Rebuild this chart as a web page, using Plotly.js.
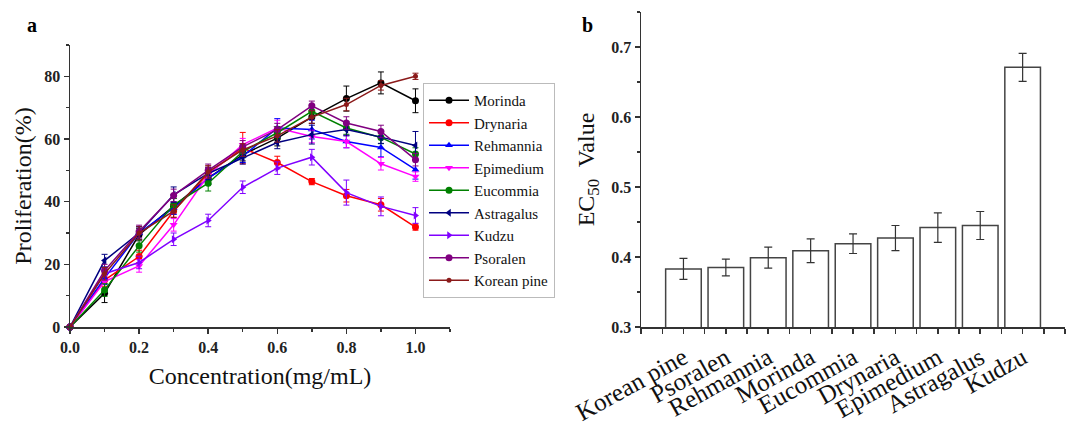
<!DOCTYPE html>
<html>
<head>
<meta charset="utf-8">
<script src="https://cdn.plot.ly/plotly-3.0.1.min.js"></script>
<style>html,body{margin:0;padding:0;background:#fff}#chart{width:1072px;height:439px}</style>
</head>
<body>
<div id="chart"></div>
<script>
// ---- Panel a data ----
const concentration = [0, 0.1, 0.2, 0.3, 0.4, 0.5, 0.6, 0.7, 0.8, 0.9, 1.0];
const seriesNames = ["Morinda","Drynaria","Rehmannia","Epimedium","Eucommia","Astragalus","Kudzu","Psoralen","Korean pine"];
const morinda    = [0, 10.8, 29.5, 38.5, 47.5, 55.0, 60.3, 67.0, 72.9, 77.9, 72.2];
const drynaria   = [0, 15.0, 22.5, 37.0, 49.0, 57.1, 52.5, 46.4, 41.9, 39.0, 31.9];
const rehmannia  = [0, 15.6, 30.0, 38.0, 47.5, 54.5, 63.5, 63.0, 59.2, 57.3, 50.2];
const epimedium  = [0, 14.5, 19.5, 32.6, 48.5, 58.2, 63.5, 60.8, 59.2, 52.1, 48.0];
const eucommia   = [0, 11.8, 25.9, 39.0, 45.9, 56.0, 62.0, 68.8, 63.5, 60.5, 55.2];
const astragalus = [0, 21.2, 30.0, 42.2, 49.0, 54.0, 58.9, 61.4, 63.0, 60.6, 57.9];
const kudzu      = [0, 17.0, 20.6, 28.0, 34.0, 44.6, 50.7, 54.2, 42.9, 38.5, 35.6];
const psoralen   = [0, 18.0, 30.5, 42.0, 50.0, 57.5, 63.0, 70.6, 65.1, 62.4, 53.4];
const koreanPine = [0, 17.0, 30.0, 37.0, 49.5, 56.5, 61.0, 67.0, 71.0, 77.1, 80.0];

const morindaErr    = [0, 3.0, 2.0, 2.5, 2.0, 2.0, 2.5, 2.0, 4.0, 3.5, 3.8];
const drynariaErr   = [0, 2.0, 2.0, 2.0, 2.0, 5.0, 2.0, 1.0, 2.0, 2.0, 1.0];
const rehmanniaErr  = [0, 2.0, 2.0, 2.0, 2.0, 2.0, 3.0, 3.0, 2.0, 3.0, 3.0];
const epimediumErr  = [0, 2.0, 2.0, 2.0, 2.0, 2.0, 2.5, 2.0, 2.0, 2.0, 1.5];
const eucommiaErr   = [0, 2.0, 2.0, 2.0, 2.5, 2.0, 2.0, 2.0, 2.0, 2.0, 2.0];
const astragalusErr = [0, 2.0, 2.0, 2.5, 2.0, 2.0, 2.0, 3.0, 2.0, 2.0, 4.5];
const kudzuErr      = [0, 2.0, 2.0, 2.0, 2.0, 2.0, 2.0, 2.5, 4.0, 3.0, 2.5];
const psoralenErr   = [0, 2.0, 2.0, 2.0, 2.0, 2.0, 2.0, 1.5, 2.0, 2.0, 2.0];
const koreanPineErr = [0, 2.0, 2.0, 2.0, 2.0, 2.0, 2.0, 2.0, 2.0, 1.5, 1.0];

// ---- Panel b data ----
const ecCategories = ["Korean pine","Psoralen","Rehmannia","Morinda","Eucommia","Drynaria","Epimedium","Astragalus","Kudzu"];
const ec50Values   = [0.383, 0.385, 0.399, 0.409, 0.419, 0.427, 0.442, 0.445, 0.671];
const ec50Errors   = [0.015, 0.012, 0.015, 0.017, 0.014, 0.018, 0.021, 0.020, 0.020];

// ---- styles ----
const colors  = ["#000000","#ff0000","#0000ff","#ff00ff","#008000","#000080","#8000ff","#800080","#8b1a1a"];
const symbols = ["circle","circle","triangle-up","triangle-down","circle","triangle-left","triangle-right","circle","circle"];
const sizes   = [7,7,7,7,7,7,7,7,5];
const yData = [morinda,drynaria,rehmannia,epimedium,eucommia,astragalus,kudzu,psoralen,koreanPine];
const yErr  = [morindaErr,drynariaErr,rehmanniaErr,epimediumErr,eucommiaErr,astragalusErr,kudzuErr,psoralenErr,koreanPineErr];

const serif = "'Liberation Serif', 'Times New Roman', Times, serif";
const traces = seriesNames.map((name, i) => ({
  type: "scatter", mode: "lines+markers", name: name,
  x: concentration, y: yData[i],
  xaxis: "x", yaxis: "y",
  cliponaxis: false,
  line: {color: colors[i], width: 1.5},
  marker: {color: colors[i], symbol: symbols[i], size: sizes[i]},
  error_y: {type: "data", array: yErr[i], visible: true, color: colors[i], thickness: 1, width: 3}
}));

traces.push({
  type: "bar", name: "EC50",
  x: ecCategories.map((c, i) => i), y: ec50Values,
  xaxis: "x2", yaxis: "y2", showlegend: false,
  width: 0.84,
  marker: {color: "#ffffff", line: {color: "#444444", width: 1.5}},
  error_y: {type: "data", array: ec50Errors, visible: true, color: "#333333", thickness: 1.2, width: 4}
});

const axisCommon = {
  showline: true, linecolor: "#333333", linewidth: 1.5,
  ticks: "outside", ticklen: 5, tickwidth: 1.5, tickcolor: "#333333",
  showgrid: false, zeroline: false,
  tickfont: {family: serif, size: 16, color: "#222222", weight: "bold"}
};

const layout = {
  width: 1072, height: 439,
  margin: {l: 0, r: 0, t: 0, b: 0},
  paper_bgcolor: "#ffffff", plot_bgcolor: "rgba(0,0,0,0)",
  showlegend: true,
  legend: {
    x: 0.3946, y: 0.811, xanchor: "left", yanchor: "top",
    bgcolor: "#ffffff", bordercolor: "#bbbbbb", borderwidth: 1,
    font: {family: serif, size: 15, color: "#111111"},
    itemwidth: 40, tracegroupgap: 0
  },
  xaxis: Object.assign({}, axisCommon, {
    domain: [0.0653, 0.4198], anchor: "y",
    range: [0, 1.1], dtick: 0.2, tick0: 0, tickformat: ".1f",
    minor: {dtick: 0.1, tick0: 0, ticklen: 3, tickcolor: "#333333", ticks: "outside", showgrid: false},
    title: {text: "Concentration(mg/mL)", font: {family: serif, size: 24, color: "#111111"}, standoff: 12}
  }),
  yaxis: Object.assign({}, axisCommon, {
    domain: [0.2551, 0.8975], anchor: "x",
    range: [0, 90], dtick: 20, tick0: 0,
    minor: {dtick: 10, tick0: 0, ticklen: 3, tickcolor: "#333333", ticks: "outside", showgrid: false},
    title: {text: "Proliferation(%)", font: {family: serif, size: 24, color: "#111111"}, standoff: 6}
  }),
  xaxis2: Object.assign({}, axisCommon, {
    domain: [0.598, 0.9935], anchor: "y2",
    range: [-1, 9],
    tickmode: "array", tickvals: ecCategories.map((c, i) => i), ticktext: ecCategories,
    tickangle: -29,
    tickfont: {family: serif, size: 25, color: "#111111"},
    minor: {dtick: 0.5, tick0: -1, ticklen: 5, tickcolor: "#333333", ticks: "outside", showgrid: false}
  }),
  yaxis2: Object.assign({}, axisCommon, {
    domain: [0.2551, 0.9727], anchor: "x2",
    range: [0.3, 0.75], dtick: 0.1, tick0: 0.3, tickformat: ".1f",
    minor: {dtick: 0.05, tick0: 0.3, ticklen: 3, tickcolor: "#333333", ticks: "outside", showgrid: false},
    title: {text: "EC<sub>50</sub>  Value", font: {family: serif, size: 24, color: "#111111"}, standoff: 10}
  }),
  annotations: [
    {text: "<b>a</b>", xref: "paper", yref: "paper", x: 32/1072, y: 1 - 25/439, xanchor: "center", yanchor: "middle", showarrow: false, font: {family: serif, size: 20, color: "#000"}},
    {text: "<b>b</b>", xref: "paper", yref: "paper", x: 587/1072, y: 1 - 25/439, xanchor: "center", yanchor: "middle", showarrow: false, font: {family: serif, size: 20, color: "#000"}}
  ]
};

Plotly.newPlot("chart", traces, layout, {staticPlot: true, displayModeBar: false});
</script>
</body>
</html>
